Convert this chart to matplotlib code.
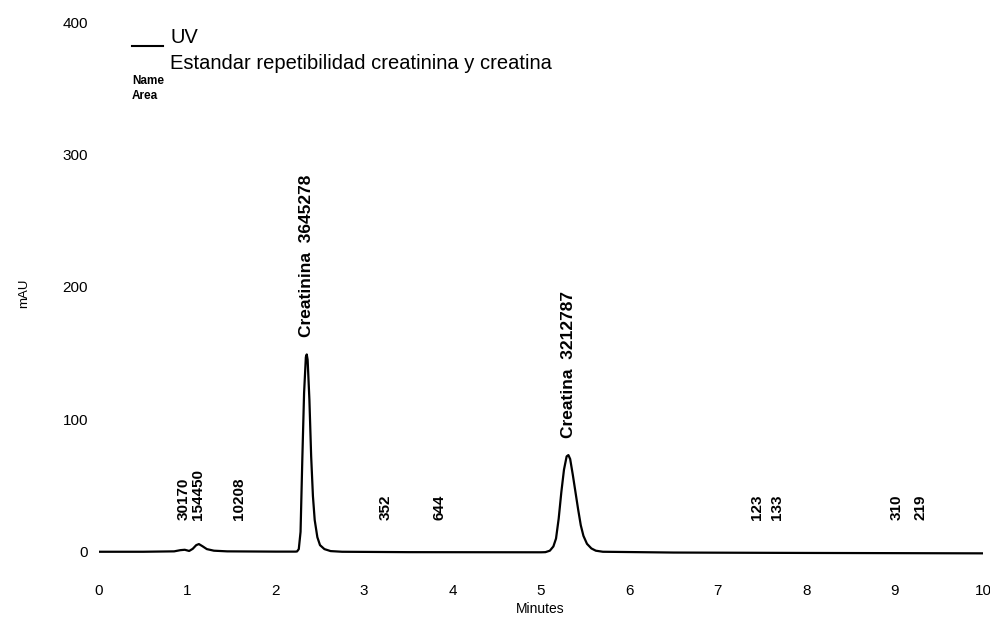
import matplotlib

matplotlib.use("Agg")

import matplotlib.pyplot as plt

# chromatogram trace (minutes, mAU)
trace_min = [
    0.0, 0.5, 0.85, 0.92, 0.97, 1.02, 1.06, 1.10, 1.13, 1.17, 1.22, 1.30, 1.45, 2.0, 2.22,
    2.24, 2.26, 2.28, 2.30, 2.32, 2.34, 2.35, 2.36, 2.38, 2.40, 2.42, 2.44, 2.47, 2.50, 2.55,
    2.62, 2.75, 3.5, 5.0, 5.05, 5.10, 5.14, 5.17, 5.20, 5.23, 5.26, 5.29, 5.31, 5.33, 5.36,
    5.39, 5.42, 5.45, 5.48, 5.52, 5.57, 5.62, 5.70, 6.5, 8.0, 10.0,
]
trace_mau = [
    0.0, 0.0, 0.3, 1.2, 1.5, 0.6, 2.2, 5.0, 5.8, 4.2, 2.0, 0.8, 0.3, 0.1, 0.1,
    0.2, 2.0, 15.0, 70.0, 120.0, 147.0, 149.0, 145.0, 115.0, 72.0, 42.0, 24.0, 11.0, 5.0, 2.0,
    0.5, 0.0, -0.3, -0.4, -0.3, 0.8, 4.0, 10.0, 25.0, 45.0, 62.0, 72.0, 73.0, 70.0, 58.0,
    45.0, 32.0, 20.0, 12.0, 6.0, 2.5, 0.8, 0.0, -0.6, -0.9, -1.2,
]

# integrated peaks: retention time, name, area
peak_min = [0.96, 1.12, 1.58, 2.35, 3.24, 3.85, 5.31, 7.44, 7.67, 9.02, 9.29]
peak_name = ["", "", "", "Creatinina", "", "", "Creatina", "", "", "", ""]
peak_area = [30170, 154450, 10208, 3645278, 352, 644, 3212787, 123, 133, 310, 219]
peak_height = [1.5, 5.8, 0.2, 149.0, 0.0, 0.0, 73.0, 0.0, 0.0, 0.0, 0.0]

W, H = 990, 617
fig = plt.figure(figsize=(W / 100, H / 100), dpi=100)
plt.rcParams["font.family"] = ["Liberation Sans", "DejaVu Sans"]


def fx(px):
    return px / W


def fy(py):
    return 1 - py / H


ax_left, ax_right, ax_top, ax_bottom = 99, 983, 22, 565
ax = fig.add_axes([fx(ax_left), fy(ax_bottom), fx(ax_right - ax_left), fy(ax_top) - fy(ax_bottom)])
ax.plot(trace_min, trace_mau, color="black", linewidth=1.6)
ax.set_xlim(0, 10)
ax.set_ylim(-10, 400)

for side in ("top", "right", "bottom", "left"):
    ax.spines[side].set_visible(False)
ax.set_xticks(range(0, 11))
ax.set_yticks([0, 100, 200, 300, 400])
ax.tick_params(axis="x", length=0, pad=14, labelsize=11)
ax.tick_params(axis="y", length=0, pad=8, labelsize=11)

for t, name, area, h in zip(peak_min, peak_name, peak_area, peak_height):
    if name:
        ax.text(t, h + 13, f"{name}  {area}", rotation=90, ha="center", va="bottom",
                fontsize=12.5, fontweight="bold")
    else:
        ax.text(t, 24, str(area), rotation=90, ha="center", va="bottom",
                fontsize=11, fontweight="bold")

# legend block
fig.add_artist(plt.Line2D([fx(132), fx(163)], [fy(46), fy(46)], color="black", linewidth=1.5))
fig.text(fx(170), fy(43), "UV", fontsize=14.5, va="baseline", ha="left")
fig.text(fx(170), fy(69), "Estandar repetibilidad creatinina y creatina",
         fontsize=14.5, va="baseline", ha="left")
fig.text(fx(132), fy(84), "Name", fontsize=8.5, fontweight="bold", va="baseline")
fig.text(fx(132), fy(99), "Area", fontsize=8.5, fontweight="bold", va="baseline")

fig.text(fx(24), fy(293), "mAU", fontsize=9.5, rotation=90, va="center", ha="center")
fig.text(fx(540), fy(609), "Minutes", fontsize=10, va="center", ha="center")

fig.savefig("out.png", dpi=100)
